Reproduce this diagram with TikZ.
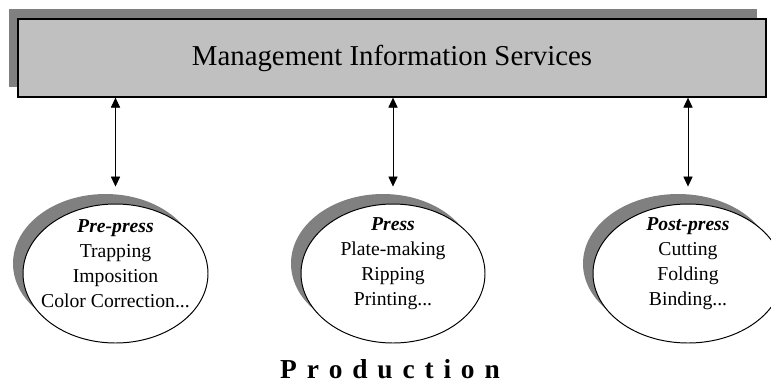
\documentclass[tikz,border=0pt]{standalone}
\usepackage{fontspec}
\setmainfont{Liberation Serif}
\usetikzlibrary{positioning, shapes.geometric, shadows, arrows.meta}

\definecolor{boxgray}{HTML}{C0C0C0}
\definecolor{shadegray}{HTML}{808080}

\begin{document}
\begin{tikzpicture}[
    mis/.style={rectangle, draw, line width=1pt, fill=boxgray, minimum width=18.7cm, minimum height=1.95cm,
        font=\fontsize{20.5}{22}\selectfont,
        drop shadow={shadow xshift=-0.225cm, shadow yshift=0.25cm, fill=shadegray, opacity=1}},
    phase/.style={ellipse, draw, line width=0.7pt, fill=white, inner sep=0pt, minimum height=3.475cm,
        drop shadow={shadow xshift=-0.25cm, shadow yshift=0.25cm, fill=shadegray, opacity=1}},
    phasetext/.style={align=center, font=\fontsize{14}{17.8}\selectfont},
    link/.style={{Triangle[length=7pt, width=6.5pt]}-{Triangle[length=7pt, width=6.5pt]}, shorten >=0.425cm}
]
    \useasboundingbox (0,0) rectangle (19.275,-9.575);

    % Management Information Services
    \node[mis] (info) at (9.8,-1.45) {Management Information Services};

    % Phases of production
    \node[phase, minimum width=4.625cm] (prepress) at (2.8875,-6.8375) {};
    \node[phase, minimum width=4.6cm] (press) at (9.825,-6.8375) {};
    \node[phase, minimum width=4.75cm] (postpress) at (17.2,-6.8375) {};

    \node[phasetext] (prepresstext) at ([yshift=0.24cm]prepress.center)
        {\textbf{\textit{Pre-press}}\\Trapping\\Imposition\\Color Correction...};
    \node[phasetext] (presstext) at ([yshift=0.24cm]press.center)
        {\textbf{\textit{Press}}\\Plate-making\\Ripping\\Printing...};
    \node[phasetext] (postpresstext) at ([yshift=0.24cm]postpress.center)
        {\textbf{\textit{Post-press}}\\Cutting\\Folding\\Binding...};

    % Connections
    \draw[link] (info.south -| prepress.north) -- (prepress.north);
    \draw[link] (info.south -| press.north) -- (press.north);
    \draw[link] (info.south -| postpress.north) -- (postpress.north);

    \node[anchor=base, inner sep=0.5pt, font=\fontsize{19.5}{22}\selectfont\bfseries] (production) at (9.75,-9.47)
        {\spaceskip=7pt\relax P r o d u c t i o n};
\end{tikzpicture}
\end{document}
